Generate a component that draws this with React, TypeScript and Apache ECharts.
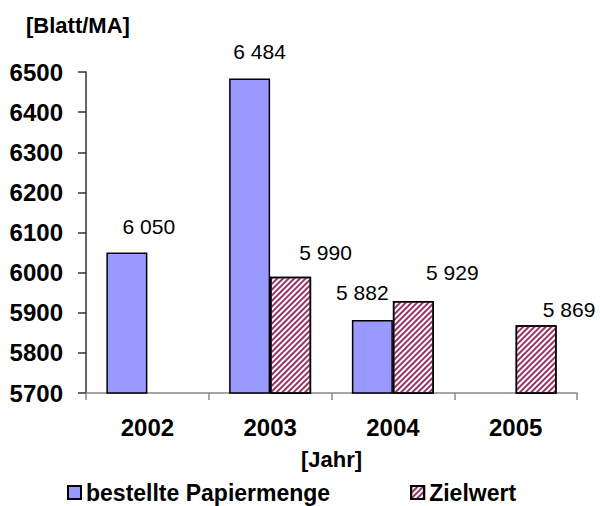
import React, { useEffect, useRef } from "react";
import * as echarts from "echarts";

const years = ["2002", "2003", "2004", "2005"];
const bestellt: (number | null)[] = [6050, 6484, 5882, null];
const zielwert: (number | null)[] = [null, 5990, 5929, 5869];
const yTicks = { min: 5700, max: 6500, interval: 100 };

// label nudges (presentation only)
const bestelltLabelOffsets = [[22, -11], [10, -11], [-10, -12], [0, 0]];
const zielLabelOffsets = [[0, 0], [35, -9], [39, -13], [33, 0]];

const FONT = "'Liberation Sans', Arial, sans-serif";

const fmt = (v: number) => {
  const s = String(Math.round(v));
  return s.replace(/\B(?=(\d{3})+(?!\d))/g, " ");
};

export default function App() {
  const ref = useRef<HTMLDivElement>(null);
  useEffect(() => {
    if (!ref.current) return;
    const chart = echarts.init(ref.current, undefined, { renderer: "svg" });
    const labelBase = {
      show: true,
      position: "top",
      color: "#000",
      fontSize: 21,
      fontFamily: FONT,
      formatter: (p: any) => fmt(p.value),
    };
    chart.setOption({
      animation: false,
      backgroundColor: "#fff",
      textStyle: { fontFamily: FONT },
      title: {
        text: "[Blatt/MA]",
        left: 21,
        top: 9,
        textStyle: { fontSize: 22, fontWeight: "bold", color: "#000", fontFamily: FONT },
      },
      legend: {
        left: 62,
        top: 476,
        itemWidth: 13,
        itemHeight: 13,
        itemGap: 80,
        textStyle: { fontSize: 23, fontWeight: "bold", color: "#000", fontFamily: FONT },
        data: [
          { name: "bestellte Papiermenge", icon: "rect" },
          { name: "Zielwert", icon: "rect" },
        ],
      },
      grid: { left: 86, right: 23, top: 72, bottom: 113, containLabel: false },
      xAxis: {
        type: "category",
        data: years,
        name: "[Jahr]",
        nameLocation: "middle",
        nameGap: 55,
        nameTextStyle: { fontSize: 22, fontWeight: "bold", color: "#000", fontFamily: FONT },
        axisLine: { lineStyle: { color: "#888", width: 1.5 } },
        axisTick: { show: true, length: 7, lineStyle: { color: "#888", width: 1.5 } },
        axisLabel: { fontSize: 24, fontWeight: "bold", color: "#000", margin: 22, fontFamily: FONT },
      },
      yAxis: {
        type: "value",
        min: yTicks.min,
        max: yTicks.max,
        interval: yTicks.interval,
        axisLine: { show: true, lineStyle: { color: "#333", width: 1.5 } },
        axisTick: { show: true, length: 8, lineStyle: { color: "#333", width: 1.5 } },
        axisLabel: {
          fontSize: 24,
          fontWeight: "bold",
          color: "#000",
          margin: 23,
          fontFamily: FONT,
          formatter: (v: number) => String(v),
        },
        splitLine: { show: false },
      },
      series: [
        {
          name: "bestellte Papiermenge",
          type: "bar",
          barWidth: 41,
          barGap: "0%",
          itemStyle: { color: "#9999FF", borderColor: "#000", borderWidth: 1.5 },
          label: labelBase,
          data: bestellt.map((v, i) =>
            v == null ? "-" : { value: v, label: { offset: bestelltLabelOffsets[i] } }
          ),
        },
        {
          name: "Zielwert",
          type: "bar",
          barWidth: 41,
          barGap: "0%",
          itemStyle: {
            color: "#ffffff",
            borderColor: "#000",
            borderWidth: 1.5,
            decal: {
              symbol: "rect",
              symbolSize: 1,
              color: "#993366",
              backgroundColor: "#ffffff",
              dashArrayX: [1, 0],
              dashArrayY: [1.2, 1.2],
              rotation: -Math.PI / 4,
            },
          },
          label: labelBase,
          data: zielwert.map((v, i) =>
            v == null ? "-" : { value: v, label: { offset: zielLabelOffsets[i] } }
          ),
        },
      ],
    });
    return () => chart.dispose();
  }, []);
  return (
    <div
      ref={ref}
      style={{ position: "fixed", left: 0, top: 0, width: 600, height: 506, background: "#fff" }}
    />
  );
}
